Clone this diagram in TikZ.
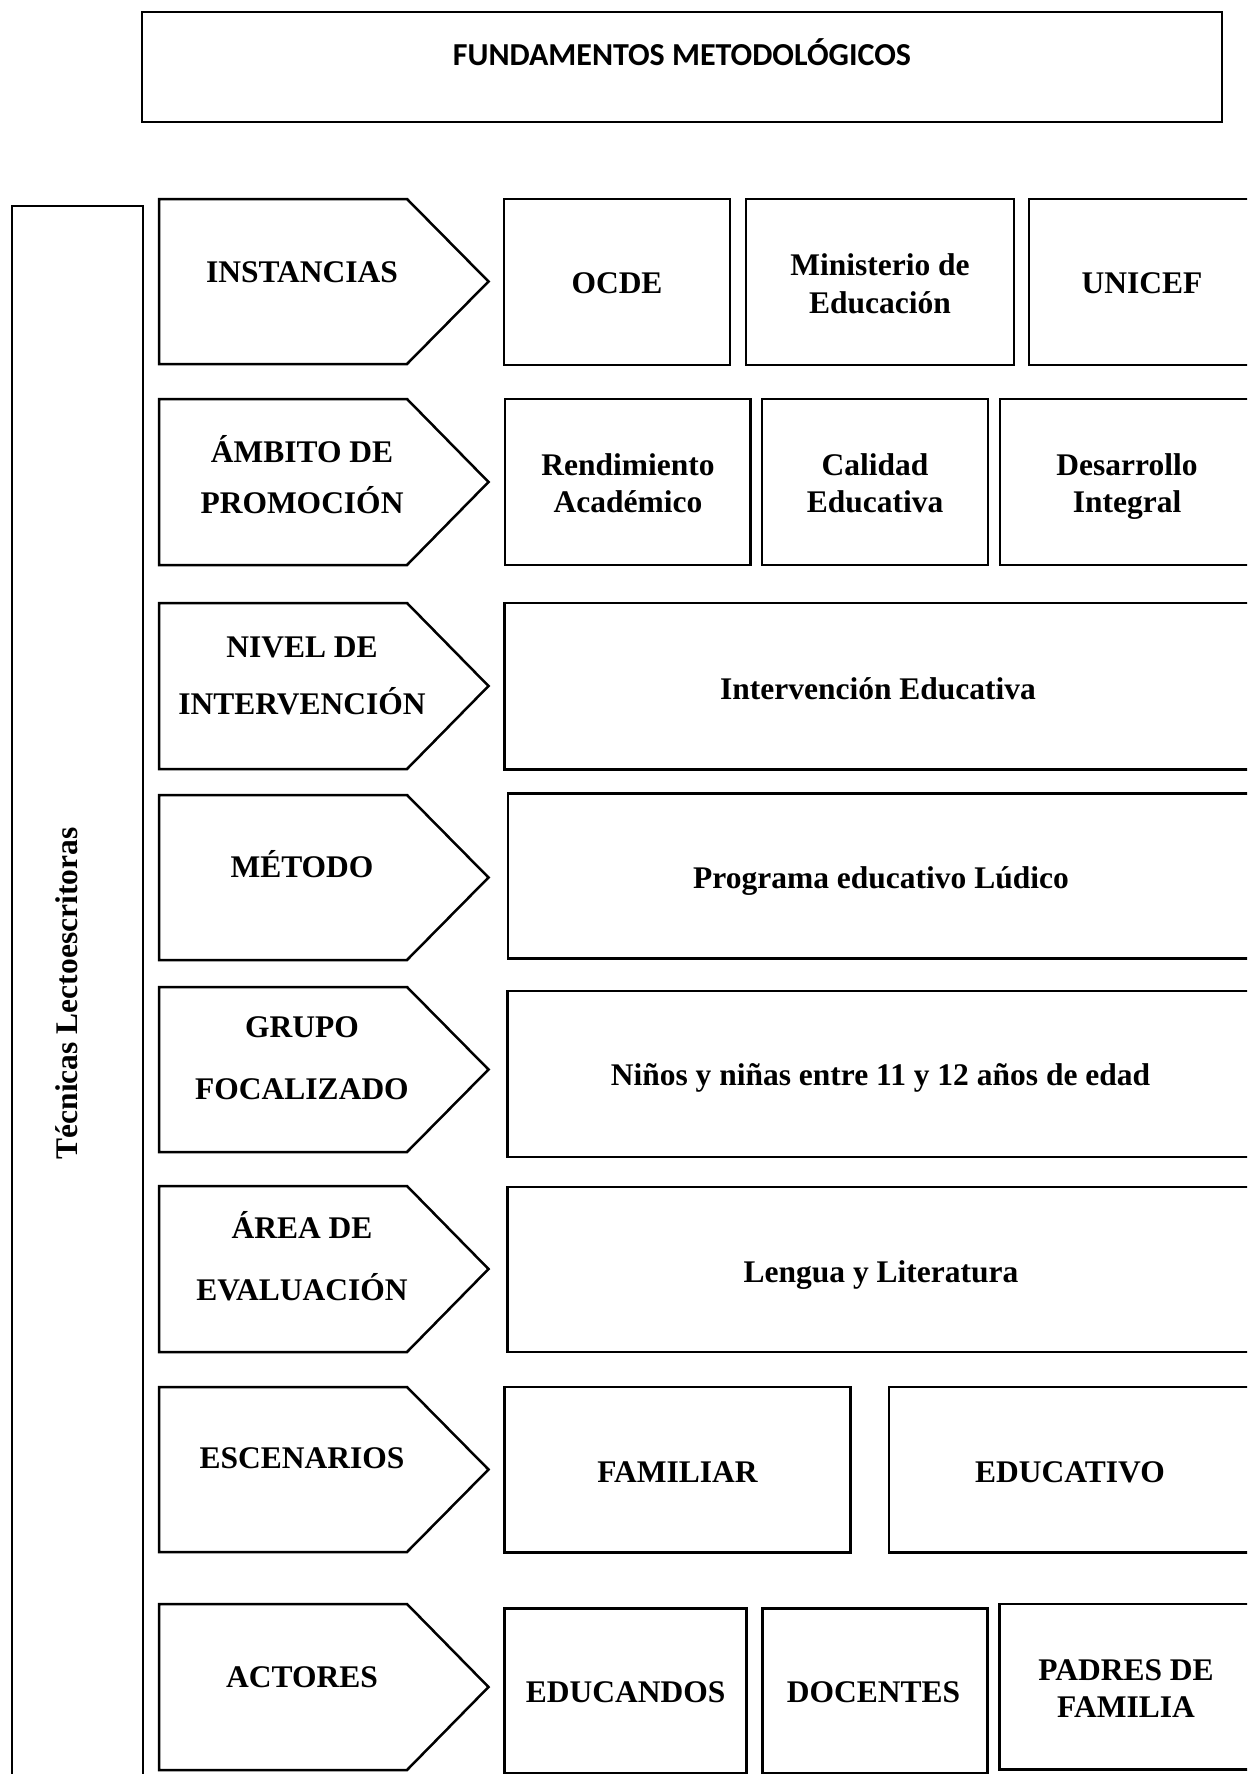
\documentclass[tikz,border=0pt]{standalone}
\usepackage{fontspec}
\setmainfont{Liberation Serif}
\newfontfamily\calib{Carlito}
\begin{document}
\begin{tikzpicture}[x=1pt,y=-1pt,
  shp/.style={draw=black,line width=2.5pt,line join=miter},
  txt/.style={anchor=base,inner sep=0pt,font=\fontsize{31.5}{36}\selectfont\bfseries},
  ttl/.style={anchor=base,inner sep=0pt,font=\fontsize{32}{38}\selectfont\calib\bfseries}]
\useasboundingbox (0,0) rectangle (1247,1774);
\clip (0,0) rectangle (1247,1774);
% title
\draw[shp] (142,12) rectangle (1222,122);
\node[ttl] (title) at (682,65.7) {FUNDAMENTOS METODOLÓGICOS};
% left tall box
\draw[shp] (12,1800) -- (12,206) -- (143,206) -- (143,1800);
\node[txt,rotate=90] (side) at (77.7,993.5) {Técnicas Lectoescritoras};
% pentagons
\foreach \t/\b in {199/364,399/565,603/769,795/960,987/1152,1186/1352,1387/1552,1604/1770}{
  \draw[shp] (159,\t) -- (407,\t) -- (488.5,{(\t+\b)/2}) -- (407,\b) -- (159,\b) -- cycle;
}
\node[txt] (p1) at (302,282) {INSTANCIAS};
\node[txt] (p2a) at (302,462.5) {ÁMBITO DE};
\node[txt] (p2b) at (302,513.5) {PROMOCIÓN};
\node[txt] (p3a) at (302,657) {NIVEL DE};
\node[txt] (p3b) at (302,714.5) {INTERVENCIÓN};
\node[txt] (p4) at (302,877) {MÉTODO};
\node[txt] (p5a) at (302,1037.5) {GRUPO};
\node[txt] (p5b) at (302,1099.5) {FOCALIZADO};
\node[txt] (p6a) at (302,1238.5) {ÁREA DE};
\node[txt] (p6b) at (302,1300.5) {EVALUACIÓN};
\node[txt] (p7) at (302,1468.5) {ESCENARIOS};
\node[txt] (p8) at (302,1687) {ACTORES};
% row 1
\draw[shp] (504,199) rectangle (730,365);
\draw[shp] (746,199) rectangle (1014,365);
\draw[shp] (1029,199) rectangle (1255,365);
\node[txt] (ocde) at (617,293) {OCDE};
\node[txt] (min1) at (880,275.5) {Ministerio de};
\node[txt] (min2) at (880,313) {Educación};
\node[txt] (unicef) at (1142,293) {UNICEF};
% row 2
\draw[shp] (505,399) rectangle (750.6,565);
\draw[shp] (762,399) rectangle (988,565);
\draw[shp] (1000,399) rectangle (1254,565);
\node[txt] (ren1) at (628,475.5) {Rendimiento};
\node[txt] (ren2) at (628,512.5) {Académico};
\node[txt] (cal1) at (875,475.5) {Calidad};
\node[txt] (cal2) at (875,512.5) {Educativa};
\node[txt] (des1) at (1127,475.5) {Desarrollo};
\node[txt] (des2) at (1127,512.5) {Integral};
% rows 3-6
\draw[shp] (504.5,603) rectangle (1253,769.5);
\node[txt] (int) at (878,699.5) {Intervención Educativa};
\draw[shp] (508,793.5) rectangle (1254,958.5);
\node[txt] (prog) at (881,888) {Programa educativo Lúdico};
\draw[shp] (507.5,991) rectangle (1254,1157);
\node[txt] (nin) at (880.5,1085.5) {Niños y niñas entre 11 y 12 años de edad};
\draw[shp] (507.5,1187) rectangle (1254,1352);
\node[txt] (len) at (881,1282) {Lengua y Literatura};
% row 7
\draw[shp] (504.5,1387) rectangle (850.3,1552.3);
\draw[shp] (889,1387) rectangle (1253,1552.3);
\node[txt] (fam) at (677.5,1482) {FAMILIAR};
\node[txt] (edu) at (1070,1482) {EDUCATIVO};
% row 8
\draw[shp] (504.5,1608.7) rectangle (746.6,1773);
\draw[shp] (762.3,1608.7) rectangle (987.3,1773);
\draw[shp] (999.6,1604) rectangle (1253,1769.3);
\node[txt] (educ) at (625.6,1702.5) {EDUCANDOS};
\node[txt] (doc) at (873.6,1702.5) {DOCENTES};
\node[txt] (pad1) at (1126,1680.5) {PADRES DE};
\node[txt] (pad2) at (1126,1717) {FAMILIA};
\end{tikzpicture}
\end{document}
